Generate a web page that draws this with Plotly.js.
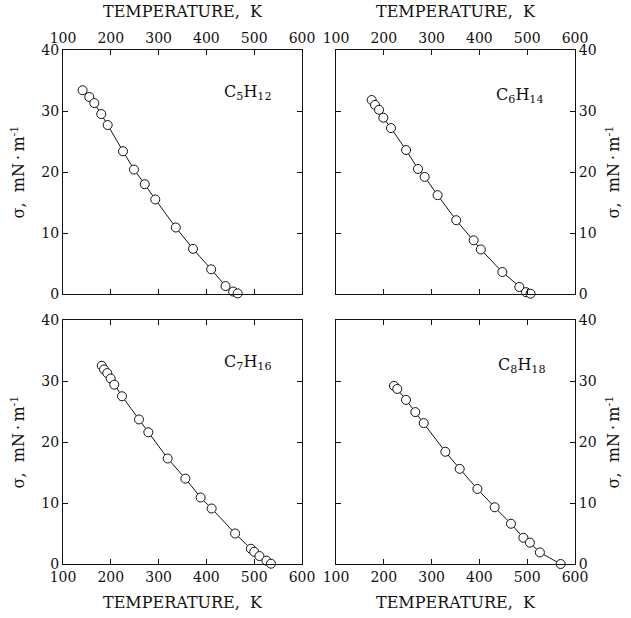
<!DOCTYPE html>
<html>
<head>
<meta charset="utf-8">
<script src="https://cdn.plot.ly/plotly-3.0.1.min.js"></script>
<style>html,body{margin:0;padding:0;background:#fff}#chart{width:631px;height:618px}</style>
</head>
<body>
<div id="chart"></div>
<script>
// C5H12 (pentane)
const tPentane = [141, 155, 165.5, 180, 193.5, 225.5, 248.5, 271, 293, 336, 372, 410, 440, 456, 465.5];
const sPentane = [33.4, 32.3, 31.3, 29.5, 27.7, 23.4, 20.4, 18.0, 15.5, 10.9, 7.4, 4.05, 1.3, 0.4, 0.1];
// C6H14 (hexane)
const tHexane = [174.6, 181.6, 190, 199, 215, 246.6, 271.5, 285.5, 312.5, 351.5, 388, 403, 448, 483.5, 497.5, 507];
const sHexane = [31.8, 31.0, 30.2, 28.9, 27.2, 23.6, 20.5, 19.2, 16.2, 12.1, 8.8, 7.3, 3.6, 1.15, 0.3, 0.05];
// C7H16 (heptane)
const tHeptane = [181, 185.8, 192.7, 199.8, 207.3, 223.4, 259, 278.5, 319, 356, 388, 411, 460, 493, 500, 511, 525.5, 535];
const sHeptane = [32.5, 31.9, 31.3, 30.4, 29.4, 27.5, 23.7, 21.6, 17.3, 14.0, 10.9, 9.1, 5.0, 2.5, 2.0, 1.3, 0.55, 0.05];
// C8H18 (octane)
const tOctane = [221.3, 228.2, 246.4, 265.9, 283.5, 328.7, 358.8, 395.8, 432, 466, 492, 505.6, 526.5, 570];
const sOctane = [29.2, 28.7, 26.9, 24.9, 23.1, 18.4, 15.6, 12.3, 9.3, 6.6, 4.3, 3.5, 1.9, 0.0];

const labels = ['C<sub>5</sub>H<sub>12</sub>', 'C<sub>6</sub>H<sub>14</sub>', 'C<sub>7</sub>H<sub>16</sub>', 'C<sub>8</sub>H<sub>18</sub>'];
const xTitle = 'TEMPERATURE,\u00a0 K';
const yTitle = 'σ,\u00a0 mN\u2009·\u2009m<sup>-1</sup>';
const xRange = [100, 600];
const yRange = [0, 40];

const FONT = 'DejaVu Serif, Liberation Serif, serif';
const INK = '#111';

const sets = [[tPentane, sPentane], [tHexane, sHexane], [tHeptane, sHeptane], [tOctane, sOctane]];
const axIds = [['x', 'y'], ['x2', 'y2'], ['x3', 'y3'], ['x4', 'y4']];

const data = sets.map((s, i) => ({
  x: s[0], y: s[1], xaxis: axIds[i][0], yaxis: axIds[i][1],
  type: 'scatter', mode: 'lines+markers', cliponaxis: false,
  line: {color: INK, width: 1},
  marker: {symbol: 'circle', size: 9, color: '#fff', line: {color: INK, width: 1}},
  showlegend: false, hoverinfo: 'x+y'
}));

function xa(domain, anchor, side) {
  return {domain, anchor, side, range: xRange, dtick: 100, tick0: 100,
    ticks: 'inside', ticklen: 5, tickcolor: INK, showline: true, linecolor: INK, linewidth: 1,
    mirror: 'ticks', showgrid: false, zeroline: false,
    tickfont: {family: FONT, size: 14, color: INK},
    title: {text: xTitle, font: {family: FONT, size: 16, color: INK}, standoff: side === 'top' ? 8 : 13}};
}
function ya(domain, anchor, side) {
  return {domain, anchor, side, range: yRange, dtick: 10, tick0: 0,
    ticks: 'inside', ticklen: 5, tickcolor: INK, showline: true, linecolor: INK, linewidth: 1,
    mirror: 'ticks', showgrid: false, zeroline: false,
    tickfont: {family: FONT, size: 14, color: INK},
    title: {text: yTitle, font: {family: FONT, size: 16, color: INK}, standoff: 12}};
}

const dL = [0, 0.4668], dR = [0.5332, 1], dT = [0.5253, 1], dB = [0, 0.4747];

const annPos = [[487, 33], [485, 32.6], [487, 33], [489, 32.6]];
const annotations = annPos.map((p, i) => ({
  x: p[0], y: p[1], xref: axIds[i][0], yref: axIds[i][1], text: labels[i],
  showarrow: false, font: {family: FONT, size: 16, color: INK}
}));

const layout = {
  width: 631, height: 618,
  margin: {l: 63, r: 56, t: 50, b: 54},
  paper_bgcolor: '#fff', plot_bgcolor: '#fff',
  xaxis: xa(dL, 'y', 'top'), yaxis: ya(dT, 'x', 'left'),
  xaxis2: xa(dR, 'y2', 'top'), yaxis2: ya(dT, 'x2', 'right'),
  xaxis3: xa(dL, 'y3', 'bottom'), yaxis3: ya(dB, 'x3', 'left'),
  xaxis4: xa(dR, 'y4', 'bottom'), yaxis4: ya(dB, 'x4', 'right'),
  annotations
};

Plotly.newPlot('chart', data, layout, {displayModeBar: false, staticPlot: true});
</script>
</body>
</html>
